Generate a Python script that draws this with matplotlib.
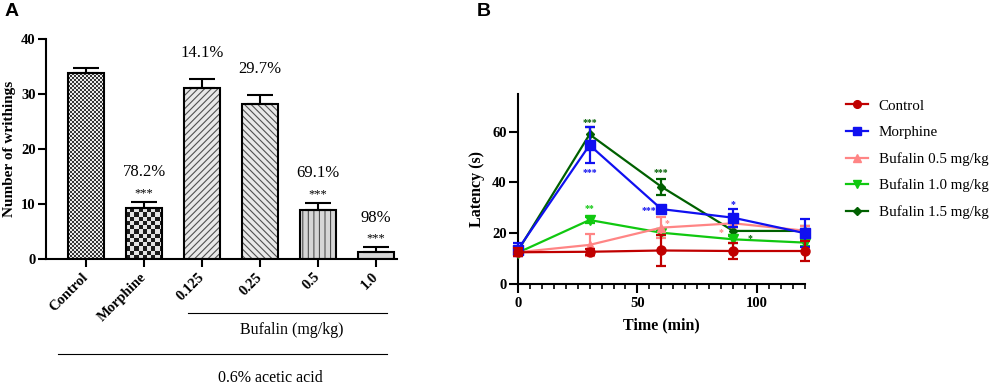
import matplotlib
matplotlib.use('Agg')
import matplotlib.pyplot as plt
import numpy as np
from matplotlib.colors import ListedColormap
from matplotlib.ticker import MultipleLocator
from matplotlib.lines import Line2D
import matplotlib.transforms as mtransforms

plt.rcParams['font.family'] = ['Liberation Serif', 'DejaVu Serif']
plt.rcParams['hatch.linewidth'] = 0.8

# ---------------- Panel A data ----------------
groups = ['Control', 'Morphine', '0.125', '0.25', '0.5', '1.0']
writhings = [33.8, 9.2, 31.1, 28.2, 8.9, 1.2]
writhings_err = [1.0, 1.2, 1.7, 1.7, 1.3, 0.9]
inhibition = ['', '78.2%', '14.1%', '29.7%', '69.1%', '98%']
sig_a = ['', '***', '', '', '***', '***']

# ---------------- Panel B data ----------------
time_min = [0, 30, 60, 90, 120]
series_names = ['Control', 'Morphine', 'Bufalin 0.5 mg/kg', 'Bufalin 1.0 mg/kg', 'Bufalin 1.5 mg/kg']
lat_control = [12.5, 12.7, 13.2, 13.0, 13.0]
lat_morphine = [13.5, 54.7, 29.5, 26.1, 20.0]
lat_buf05 = [12.5, 15.4, 22.2, 23.9, 21.0]
lat_buf10 = [12.3, 25.2, 20.2, 17.6, 16.3]
lat_buf15 = [13.0, 58.9, 38.3, 20.9, 20.9]
err_control = [1.5, 1.2, 6.0, 3.3, 4.0]
err_morphine = [2.5, 7.2, 1.0, 3.6, 5.6]
err_buf05 = [1.5, 4.2, 4.0, 1.5, 2.0]
err_buf10 = [1.0, 1.0, 1.0, 1.5, 1.5]
err_buf15 = [1.0, 3.0, 3.2, 1.5, 2.0]

fig = plt.figure(figsize=(9.96, 3.86), dpi=100)

# ================= Panel A =================
axA = fig.add_axes([0.0462, 0.329, 0.3524, 0.570])
xA = np.arange(len(groups))
bw = 0.62
XL = (-0.69, 5.36)
YL = (0, 40)
axW_px = 0.3524 * 996
axH_px = 0.570 * 386

fills = [
    dict(kind='checker', cell=2.0, c=('#353535', '#eaeaea')),
    dict(kind='checker', cell=4.2, c=('#1c1c1c', '#e4e4e4')),
    dict(kind='hatch', fc='#e8e8e8', hatch='/////'),
    dict(kind='hatch', fc='#e8e8e8', hatch='\\\\\\\\\\'),
    dict(kind='hatch', fc='#d6d6d6', hatch='|||'),
    dict(kind='hatch', fc='#d6d6d6', hatch=None),
]

for i, (xi, h) in enumerate(zip(xA, writhings)):
    st = fills[i]
    if st['kind'] == 'checker':
        bar = axA.bar(xi, h, width=bw, color='none', edgecolor='none', zorder=2)[0]
        wpx = bw * axW_px / (XL[1] - XL[0])
        hpx = h * axH_px / (YL[1] - YL[0])
        nx = int(np.ceil(wpx / st['cell']))
        ny = int(np.ceil(hpx / st['cell']))
        arr = (np.add.outer(np.arange(ny), np.arange(nx)) % 2)
        x0 = xi - bw / 2
        ext = (x0, x0 + nx * st['cell'] * (XL[1] - XL[0]) / axW_px,
               0, ny * st['cell'] * (YL[1] - YL[0]) / axH_px)
        im = axA.imshow(arr, extent=ext, origin='lower', aspect='auto',
                        interpolation='nearest', cmap=ListedColormap(list(st['c'])),
                        zorder=2)
        im.set_clip_path(bar)
    else:
        axA.bar(xi, h, width=bw, color=st['fc'], edgecolor='#505050',
                hatch=st['hatch'], linewidth=0, zorder=2)
    axA.bar(xi, h, width=bw, color='none', edgecolor='black', linewidth=1.5, zorder=3)

axA.errorbar(xA, writhings, yerr=[np.zeros(len(xA)), writhings_err], fmt='none',
             ecolor='black', elinewidth=1.5, capsize=9.5, capthick=1.5, zorder=4)

for xi, h, e, pct, s in zip(xA, writhings, writhings_err, inhibition, sig_a):
    top = h + e
    if s:
        axA.text(xi, top + 1.6, s, ha='center', va='center', fontsize=9)
        axA.text(xi, top + 5.4, pct, ha='center', va='center', fontsize=12)
    elif pct:
        axA.text(xi, top + 4.6, pct, ha='center', va='center', fontsize=12)

axA.set_xlim(*XL)
axA.set_ylim(*YL)
axA.set_xticks(xA)
axA.set_xticklabels(groups, rotation=45, ha='right', va='center',
                    rotation_mode='anchor', fontweight='bold', fontsize=10.5)
axA.set_yticks([0, 10, 20, 30, 40])
for lab in axA.get_yticklabels():
    lab.set_fontweight('bold')
    lab.set_fontsize(10.5)
axA.tick_params(axis='y', width=1.5, length=6, pad=1.5)
axA.tick_params(axis='x', width=1.5, length=5.5, pad=6)
for sp in ['top', 'right']:
    axA.spines[sp].set_visible(False)
for sp in ['left', 'bottom']:
    axA.spines[sp].set_linewidth(1.5)
axA.set_ylabel('Number of writhings', fontweight='bold', fontsize=11)
axA.yaxis.set_label_coords(-0.085, 0.5)

trA = mtransforms.blended_transform_factory(axA.transData, axA.transAxes)
fig.add_artist(Line2D([2 - 0.24, 5 + 0.19], [-0.245, -0.245], transform=trA,
                      color='black', lw=0.8))
fig.add_artist(Line2D([0 - 0.48, 5 + 0.19], [-0.432, -0.432], transform=trA,
                      color='black', lw=0.8))
axA.text(3.55, -0.323, 'Bufalin (mg/kg)', transform=trA, ha='center', va='center',
         fontsize=11.5, clip_on=False)
axA.text(3.17, -0.541, '0.6% acetic acid', transform=trA, ha='center', va='center',
         fontsize=11.5, clip_on=False)

# ================= Panel B =================
axB = fig.add_axes([0.5198, 0.2642, 0.2885, 0.4935])
series_vals = [lat_control, lat_morphine, lat_buf05, lat_buf10, lat_buf15]
series_errs = [err_control, err_morphine, err_buf05, err_buf10, err_buf15]
colors = ['#C00000', '#1010F0', '#FF8585', '#10C810', '#006000']
markers = ['o', 's', '^', 'v', 'D']
msizes = [6.5, 7, 6, 6.5, 4.5]
zorders = [10, 9, 8, 7, 6]
handles = []
for name, v, e, c, m, ms, z in zip(series_names, series_vals, series_errs, colors,
                                     markers, msizes, zorders):
    axB.errorbar(time_min, v, yerr=e, color=c, marker=m, markersize=ms,
                 lw=1.6, elinewidth=1.6, capsize=3.5, capthick=1.6,
                 zorder=z, clip_on=False)
    handles.append(Line2D([], [], color=c, marker=m, markersize=ms * 0.85, lw=1.6))

# significance marks: (series index, time index, dx, dy, text)
sig_b = [(4, 1, 0, 5.7, '***'), (1, 1, 0, -9.7, '***'), (3, 1, 0, 5.5, '**'),
         (4, 2, 0, 6.7, '***'), (1, 2, -5.2, 0.5, '***'), (2, 2, 2.5, 2.8, '*'),
         (1, 3, 0, 6.1, '*'), (2, 3, -5.3, -2.6, '*'), (4, 3, 7.2, -2.0, '*')]
for si, ti, dx, dy, txt in sig_b:
    axB.text(time_min[ti] + dx, series_vals[si][ti] + dy - 1.0, txt, color=colors[si],
             ha='center', va='center', fontsize=7, fontweight='bold', zorder=12)

axB.set_xlim(0, 120)
axB.set_ylim(0, 75)
axB.xaxis.set_major_locator(MultipleLocator(50))
axB.xaxis.set_minor_locator(MultipleLocator(5))
axB.set_yticks([0, 20, 40, 60])
for lab in axB.get_xticklabels() + axB.get_yticklabels():
    lab.set_fontweight('bold')
    lab.set_fontsize(10.5)
axB.tick_params(axis='both', which='major', width=1.5, length=6.5, pad=1.5)
axB.tick_params(axis='x', which='major', pad=3)
axB.tick_params(axis='x', which='minor', width=1.2, length=3.5)
for sp in ['top', 'right']:
    axB.spines[sp].set_visible(False)
for sp in ['left', 'bottom']:
    axB.spines[sp].set_linewidth(1.5)
axB.set_ylabel('Latency (s)', fontweight='bold', fontsize=11.5)
axB.yaxis.set_label_coords(-0.114, 0.5)
axB.set_xlabel('Time (min)', fontweight='bold', fontsize=11.5)
axB.xaxis.set_label_coords(0.501, -0.173)

fig.legend(handles, series_names, loc='upper left', bbox_to_anchor=(0.849, 0.743),
           frameon=False, fontsize=10.8, handlelength=1.5, handletextpad=0.7,
           labelspacing=0.86, borderpad=0, borderaxespad=0)

fig.text(0.005, 0.992, 'A', fontsize=14, fontweight='bold', family='Liberation Sans',
         ha='left', va='top')
fig.text(0.479, 0.992, 'B', fontsize=14, fontweight='bold', family='Liberation Sans',
         ha='left', va='top')

fig.savefig('out.png', dpi=100)
